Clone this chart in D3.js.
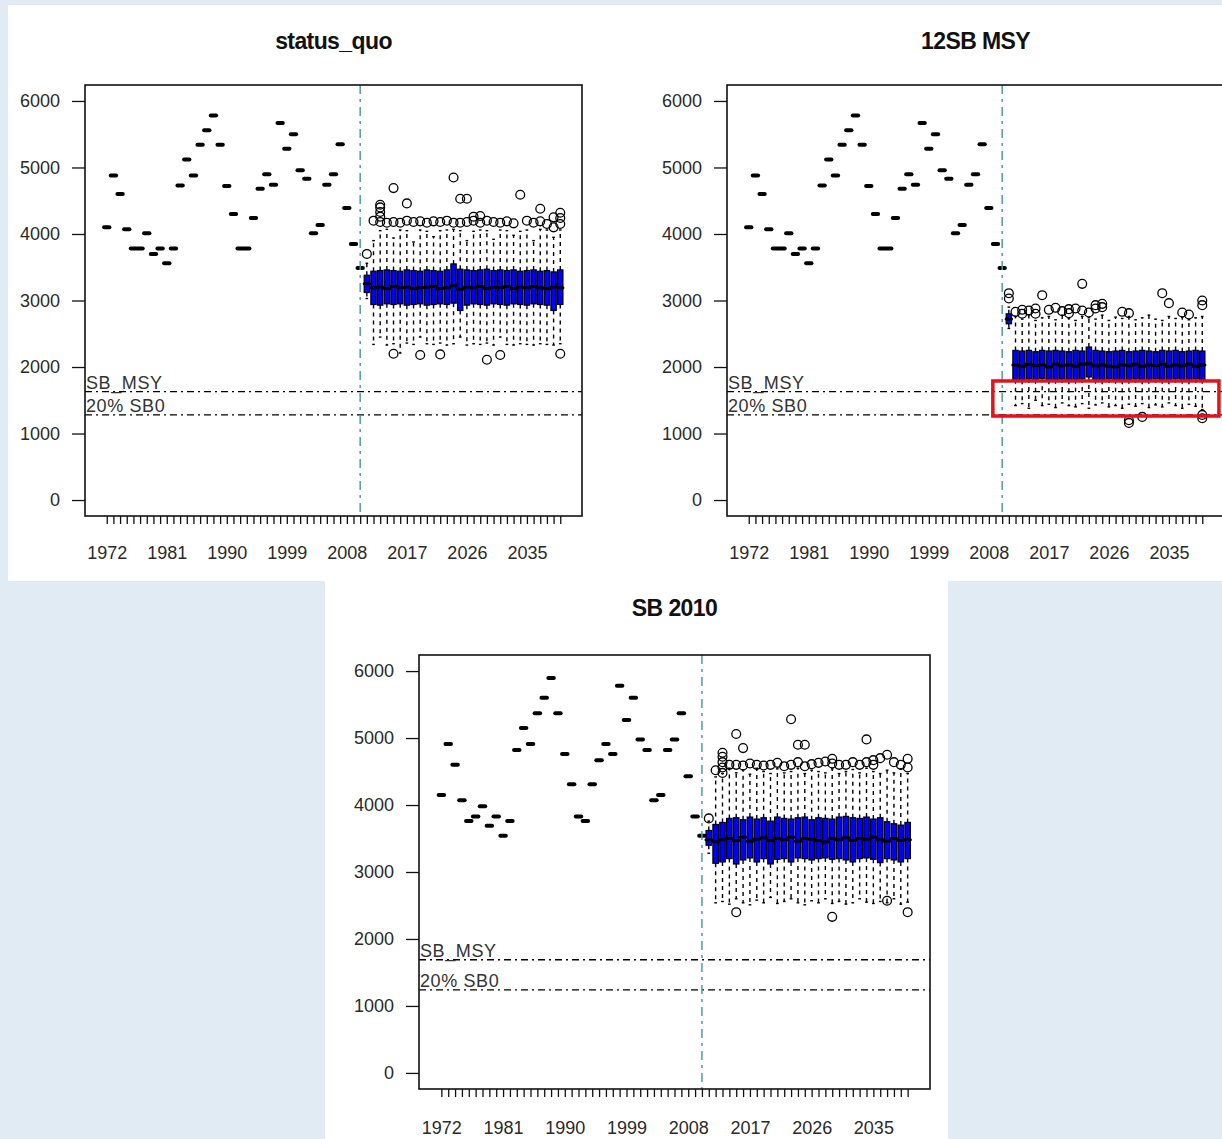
<!DOCTYPE html>
<html>
<head>
<meta charset="utf-8">
<script src="https://cdn.jsdelivr.net/npm/d3@7"></script>
<style>
  body { margin: 0; background: #e1ebf4; }
  svg { display: block; font-family: "Liberation Sans", Arial, sans-serif; }
</style>
</head>
<body>
<svg id="chart" width="1222" height="1139"></svg>
<script>
// categories
var years = d3.range(1972, 2041);
var histYears = years.filter(function(d) { return d <= 2010; });
var projYears = years.filter(function(d) { return d >= 2011; });
var labelYears = [1972, 1981, 1990, 1999, 2008, 2017, 2026, 2035];
var yTicks = [0, 1000, 2000, 3000, 4000, 5000, 6000];

// historical spawning biomass (one value a year, 1972-2010)
var histMain = [4100, 4880, 4600, 4070, 3780, 3780, 4010, 3700, 3780, 3560, 3780, 4730, 5120,
  4880, 5340, 5560, 5780, 5340, 4720, 4300, 3780, 3780, 4240, 4680, 4900, 4740, 5670, 5280,
  5500, 4960, 4830, 4010, 4135, 4740, 4900, 5350, 4390, 3850, 3490];
var histSb2010 = [4150, 4910, 4600, 4070, 3760, 3830, 3980, 3690, 3830, 3540, 3760, 4820, 5150,
  4910, 5370, 5600, 5895, 5370, 4760, 4310, 3830, 3760, 4310, 4670, 4910, 4760, 5780, 5270,
  5600, 4980, 4820, 4070, 4150, 4820, 4980, 5370, 4430, 3830, 3540];

// status_quo projections 2011-2040
var sqLo = [3030, 2340, 2450, 2330, 2350, 2210, 2360, 2340, 2450, 2350, 2340, 2360, 2330, 2350,
  2450, 2330, 2350, 2340, 2360, 2330, 2450, 2340, 2330, 2350, 2340, 2330, 2350, 2340, 2330, 2350];
var sqQ1 = [3120, 2940, 2930, 2950, 2940, 2950, 2930, 2940, 2950, 2930, 2940, 2950, 2940, 2960,
  2850, 2930, 2950, 2940, 2930, 2950, 2940, 2930, 2950, 2940, 2930, 2950, 2940, 2930, 2850, 2940];
var sqMed = [3250, 3190, 3200, 3180, 3210, 3190, 3200, 3180, 3190, 3200, 3210, 3180, 3190, 3220,
  3170, 3200, 3190, 3210, 3180, 3200, 3190, 3210, 3180, 3200, 3190, 3210, 3190, 3180, 3200, 3190];
var sqQ3 = [3380, 3440, 3450, 3460, 3450, 3440, 3460, 3450, 3440, 3460, 3450, 3440, 3460, 3550,
  3470, 3460, 3450, 3460, 3470, 3450, 3460, 3450, 3460, 3440, 3450, 3460, 3440, 3450, 3430, 3460];
var sqHi = [3560, 3900, 4050, 4070, 3940, 4060, 4050, 3880, 4060, 4040, 3960, 4050, 4060, 4070,
  4050, 3900, 4040, 4060, 4050, 3920, 4060, 4050, 3980, 4040, 4060, 3900, 4070, 4060, 3950, 4060];
var sqOut = [[3700], [4200], [4180, 4260, 4330, 4400, 4440], [4170], [4690, 4180, 2200], [4170],
  [4460, 4200], [4180], [4190, 2180], [4170], [4190], [4180, 2190], [4200], [4850, 4170],
  [4530, 4170], [4530, 4180], [4200, 4260], [4270, 4170], [4200, 2110], [4180], [4170, 2180],
  [4190], [4160], [4590], [4200], [4170], [4380, 4190], [4150], [4250, 4100], [4320, 4240, 4150, 2200]];

// 12SB MSY projections 2011-2040
var msyLo = [2580, 1420, 1450, 1380, 1500, 1420, 1440, 1390, 1460, 1420, 1400, 1450, 1380, 1430,
  1460, 1400, 1420, 1380, 1440, 1410, 1450, 1390, 1430, 1400, 1460, 1420, 1380, 1440, 1410, 1360];
var msyQ1 = [2650, 1810, 1800, 1820, 1810, 1830, 1800, 1810, 1820, 1800, 1810, 1820, 1850, 1810,
  1800, 1820, 1810, 1800, 1810, 1820, 1800, 1810, 1820, 1810, 1800, 1820, 1810, 1800, 1820, 1810];
var msyMed = [2720, 2030, 2010, 2040, 2020, 2030, 2000, 2040, 2020, 2030, 2010, 2040, 2050, 2020,
  2030, 2010, 2000, 2030, 2020, 2040, 2010, 2030, 2020, 2040, 2010, 2030, 2020, 2040, 2010, 2030];
var msyQ3 = [2800, 2250, 2240, 2250, 2230, 2250, 2240, 2250, 2240, 2230, 2250, 2240, 2300, 2250,
  2240, 2230, 2240, 2250, 2230, 2240, 2250, 2240, 2230, 2250, 2240, 2250, 2230, 2240, 2250, 2240];
var msyHi = [2900, 2760, 2720, 2780, 2700, 2740, 2760, 2710, 2780, 2730, 2700, 2760, 2740, 2720,
  2780, 2700, 2750, 2730, 2760, 2710, 2740, 2780, 2720, 2700, 2760, 2730, 2750, 2710, 2740, 2760];
var msyOut = [[3030, 3110], [2830], [2860, 2800], [2850], [2880, 2800], [3080], [2860], [2890],
  [2840], [2870, 2810], [2880], [3250, 2850], [2820], [2880, 2930], [2950, 2900], [], [], [2830],
  [2810, 1200, 1160], [], [1250], [], [], [3110], [2960], [], [2820], [2790], [], [2930, 3000, 1280, 1230]];

// SB 2010 projections 2011-2040
var sbLo = [3280, 2540, 2560, 2520, 2600, 2540, 2510, 2580, 2540, 2620, 2530, 2560, 2600, 2540,
  2510, 2570, 2540, 2600, 2530, 2560, 2520, 2540, 2600, 2550, 2530, 2560, 2540, 2600, 2520, 2550];
var sbQ1 = [3400, 3130, 3150, 3200, 3120, 3180, 3210, 3150, 3200, 3120, 3190, 3200, 3150, 3210,
  3200, 3180, 3200, 3210, 3190, 3200, 3180, 3150, 3200, 3210, 3190, 3140, 3200, 3180, 3150, 3200];
var sbMed = [3480, 3450, 3480, 3500, 3470, 3520, 3460, 3490, 3510, 3470, 3500, 3480, 3520, 3460,
  3500, 3490, 3470, 3450, 3500, 3480, 3510, 3470, 3500, 3490, 3520, 3480, 3460, 3500, 3470, 3480];
var sbQ3 = [3620, 3710, 3740, 3800, 3810, 3780, 3820, 3790, 3810, 3760, 3820, 3800, 3790, 3810,
  3820, 3780, 3810, 3800, 3790, 3820, 3830, 3810, 3800, 3820, 3790, 3810, 3750, 3720, 3700, 3740];
var sbHi = [3760, 4420, 4470, 4550, 4480, 4520, 4460, 4550, 4500, 4470, 4540, 4480, 4500, 4550,
  4470, 4520, 4500, 4480, 4540, 4470, 4500, 4530, 4480, 4550, 4500, 4470, 4520, 4480, 4540, 4470];
var sbOut = [[3800], [4520], [4480, 4560, 4640, 4720, 4780], [4600], [5060, 4600, 2400],
  [4850, 4590], [4620], [4600], [4590], [4600], [4630], [4580], [5280, 4600], [4900, 4640],
  [4900, 4580], [4610], [4630], [4650], [4690, 4620, 2330], [4600], [4600], [4640], [4600],
  [4980, 4640], [4670, 4600], [4700], [4750, 2570], [4640], [4600], [4690, 4560, 2400]];

// reference points [SB_MSY, 20% SB0]
var refSq = [1630, 1280];
var refMsy = [1630, 1280];
var refSb = [1690, 1240];
var refLabels = ["SB_MSY", "20% SB0"];

var svg = d3.select("#chart");

// background and white panel cards
var bg = svg.append("g");
bg.append("rect").attr("width", 1222).attr("height", 1139).attr("fill", "#e1ebf4");
bg.append("rect").attr("x", 8).attr("y", 5).attr("width", 1214).attr("height", 576).attr("fill", "#fff");
bg.append("rect").attr("x", 325).attr("y", 581).attr("width", 623).attr("height", 558).attr("fill", "#fff");

var panels = [
  { title: "status_quo", left: 85, right: 582, top: 85, bottom: 516, titleY: 49, labPad: 22,
    hist: histMain, lo: sqLo, q1: sqQ1, med: sqMed, q3: sqQ3, hi: sqHi, out: sqOut, ref: refSq },
  { title: "12SB MSY", left: 727, right: 1224, top: 85, bottom: 516, titleY: 49, labPad: 22,
    hist: histMain, lo: msyLo, q1: msyQ1, med: msyMed, q3: msyQ3, hi: msyHi, out: msyOut, ref: refMsy,
    highlight: { x0: 2008.6, x1: 2042.5, v0: 1790, v1: 1263 } },
  { title: "SB 2010", left: 419, right: 930, top: 655, bottom: 1089, titleY: 616, labPad: 24,
    hist: histSb2010, lo: sbLo, q1: sbQ1, med: sbMed, q3: sbQ3, hi: sbHi, out: sbOut, ref: refSb }
];

panels.forEach(drawPanel);

function drawPanel(p) {
  var ext = 0.04 * years.length;
  var x = d3.scaleLinear()
    .domain([years[0] - 0.5 - ext, years[years.length - 1] + 0.5 + ext])
    .range([p.left, p.right]);
  var y = d3.scaleLinear().domain([-240, 6240]).range([p.bottom, p.top]);
  var bw = 0.8 * (x(1) - x(0));

  var g = svg.append("g");

  // title
  g.append("text")
    .attr("x", (p.left + p.right) / 2)
    .attr("y", p.titleY)
    .attr("text-anchor", "middle")
    .attr("font-size", "23px")
    .attr("font-weight", "bold")
    .attr("letter-spacing", "-0.6px")
    .attr("fill", "#111")
    .text(p.title);

  // axes
  var yAxis = g.append("g")
    .attr("transform", "translate(" + p.left + ",0)")
    .call(d3.axisLeft(y).tickValues(yTicks).tickSize(13).tickPadding(12).tickFormat(d3.format("d")));
  var xAxis = g.append("g")
    .attr("transform", "translate(0," + p.bottom + ")")
    .call(d3.axisBottom(x).tickValues(years).tickSize(8).tickPadding(p.labPad)
      .tickFormat(function(d) { return labelYears.indexOf(d) >= 0 ? d : ""; }));
  [yAxis, xAxis].forEach(function(a) {
    a.select(".domain").remove();
    a.selectAll("line").attr("stroke", "#111").attr("stroke-width", 1.3);
    a.selectAll("text")
      .attr("font-family", "'Liberation Sans', Arial, sans-serif")
      .attr("font-size", "18px")
      .attr("fill", "#2a2a2a");
  });

  // historical years: degenerate boxes drawn as thick medians
  g.selectAll(null)
    .data(histYears)
    .enter()
    .append("line")
    .attr("x1", function(d) { return x(d) - bw / 2; })
    .attr("x2", function(d) { return x(d) + bw / 2; })
    .attr("y1", function(d, i) { return y(p.hist[i]); })
    .attr("y2", function(d, i) { return y(p.hist[i]); })
    .attr("stroke", "#000")
    .attr("stroke-width", 4)
    .attr("stroke-linecap", "round");

  // projection boxes
  var boxes = g.selectAll(null)
    .data(projYears)
    .enter()
    .append("g");

  boxes.append("line")
    .attr("x1", function(d) { return x(d); })
    .attr("x2", function(d) { return x(d); })
    .attr("y1", function(d, i) { return y(p.q3[i]); })
    .attr("y2", function(d, i) { return y(p.hi[i]); })
    .attr("stroke", "#000").attr("stroke-width", 1.4).attr("stroke-dasharray", "4,4");
  boxes.append("line")
    .attr("x1", function(d) { return x(d); })
    .attr("x2", function(d) { return x(d); })
    .attr("y1", function(d, i) { return y(p.q1[i]); })
    .attr("y2", function(d, i) { return y(p.lo[i]); })
    .attr("stroke", "#000").attr("stroke-width", 1.4).attr("stroke-dasharray", "4,4");
  ["hi", "lo"].forEach(function(k) {
    boxes.append("line")
      .attr("x1", function(d) { return x(d) - bw / 4; })
      .attr("x2", function(d) { return x(d) + bw / 4; })
      .attr("y1", function(d, i) { return y(p[k][i]); })
      .attr("y2", function(d, i) { return y(p[k][i]); })
      .attr("stroke", "#000").attr("stroke-width", 1.4);
  });
  boxes.append("rect")
    .attr("x", function(d) { return x(d) - bw / 2; })
    .attr("width", bw)
    .attr("y", function(d, i) { return y(p.q3[i]); })
    .attr("height", function(d, i) { return y(p.q1[i]) - y(p.q3[i]); })
    .attr("fill", "#0000ff")
    .attr("stroke", "#000")
    .attr("stroke-width", 1.2);
  boxes.append("line")
    .attr("x1", function(d) { return x(d) - bw / 2; })
    .attr("x2", function(d) { return x(d) + bw / 2; })
    .attr("y1", function(d, i) { return y(p.med[i]); })
    .attr("y2", function(d, i) { return y(p.med[i]); })
    .attr("stroke", "#000")
    .attr("stroke-width", 3)
    .attr("stroke-linecap", "round");
  boxes.each(function(d, i) {
    d3.select(this).selectAll("circle")
      .data(p.out[i])
      .enter()
      .append("circle")
      .attr("cx", x(d))
      .attr("cy", function(v) { return y(v); })
      .attr("r", 4.4)
      .attr("fill", "none")
      .attr("stroke", "#000")
      .attr("stroke-width", 1.3);
  });

  // reference lines
  p.ref.forEach(function(v, k) {
    g.append("line")
      .attr("x1", p.left).attr("x2", p.right)
      .attr("y1", y(v)).attr("y2", y(v))
      .attr("stroke", "#000")
      .attr("stroke-width", 1.4)
      .attr("stroke-dasharray", "7,4,2,4");
    g.append("text")
      .attr("x", p.left + 1)
      .attr("y", y(v) - 3)
      .attr("font-size", "18px")
      .attr("letter-spacing", "0.6px")
      .attr("fill", "#333")
      .text(refLabels[k]);
  });

  // start of projection period
  g.append("line")
    .attr("x1", x(2010)).attr("x2", x(2010))
    .attr("y1", p.top).attr("y2", p.bottom)
    .attr("stroke", "#4f9d9d")
    .attr("stroke-width", 1.5)
    .attr("stroke-dasharray", "9,5,3,5");

  // plot frame
  g.append("rect")
    .attr("x", p.left).attr("y", p.top)
    .attr("width", p.right - p.left).attr("height", p.bottom - p.top)
    .attr("fill", "none")
    .attr("stroke", "#111")
    .attr("stroke-width", 1.6);

  if (p.highlight) {
    var h = p.highlight;
    g.append("rect")
      .attr("x", x(h.x0)).attr("y", y(h.v0))
      .attr("width", x(h.x1) - x(h.x0)).attr("height", y(h.v1) - y(h.v0))
      .attr("fill", "none")
      .attr("stroke", "#e3121b")
      .attr("stroke-width", 3.5);
  }
}
</script>
</body>
</html>
